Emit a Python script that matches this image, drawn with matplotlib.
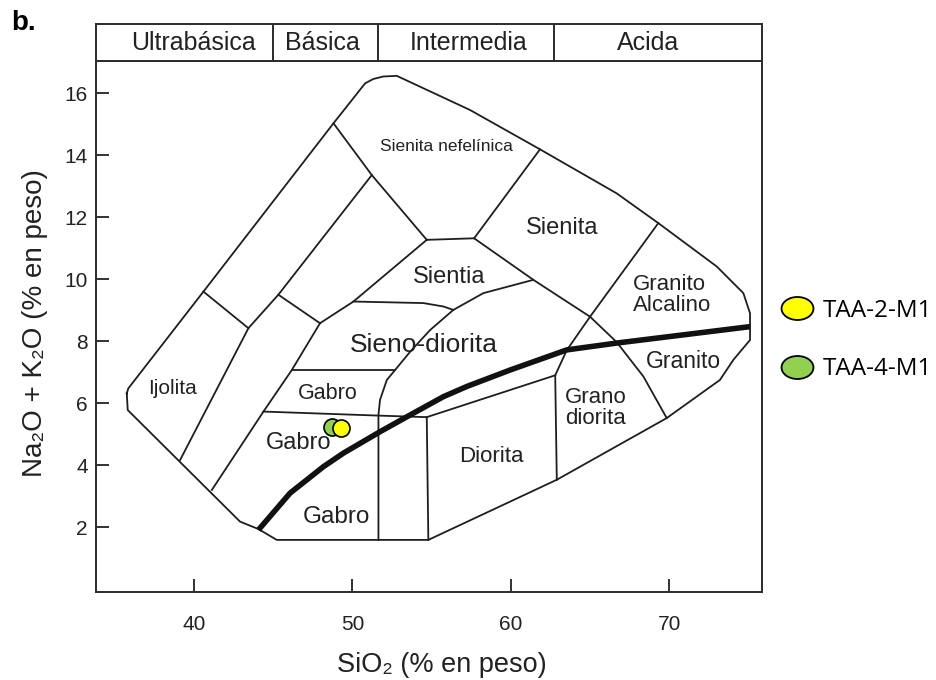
import matplotlib
matplotlib.use("Agg")
import matplotlib.pyplot as plt
from matplotlib.path import Path
from matplotlib.transforms import Affine2D
from matplotlib.lines import Line2D

plt.rcParams['font.family'] = ['Liberation Sans', 'DejaVu Sans']

# ---- datos del diagrama TAS (SiO2 vs Na2O+K2O) ----
outer_x = [35.75, 35.85, 40.59, 48.80, 50.80, 51.32, 51.95, 52.80, 57.42, 61.84, 66.68, 69.31,
           73.00, 74.68, 75.10, 75.10, 74.05, 73.20, 69.84, 62.90, 54.79, 51.64, 45.22, 44.06,
           42.90, 35.81, 35.75]
outer_y = [6.32, 6.48, 9.60, 15.03, 16.32, 16.46, 16.54, 16.56, 15.46, 14.19, 12.77, 11.81,
           10.41, 9.55, 8.90, 8.04, 7.40, 6.75, 5.52, 3.53, 1.59, 1.59, 1.59, 1.94,
           2.18, 5.78, 6.32]

line1_x = [51.22, 45.32, 43.43, 39.12]
line1_y = [13.36, 9.50, 8.42, 4.17]
line3_x = [54.69, 50.06, 47.95, 46.17, 44.38, 41.12]
line3_y = [11.27, 9.28, 8.58, 7.07, 5.73, 3.20]
cross1_x = [40.59, 43.43]
cross1_y = [9.60, 8.42]
cross2_x = [45.32, 47.95]
cross2_y = [9.50, 8.58]
nef_left_x = [48.80, 51.22, 54.69]
nef_left_y = [15.03, 13.36, 11.27]
nef_bottom_x = [54.69, 57.68]
nef_bottom_y = [11.27, 11.32]
nef_right_x = [57.68, 61.84]
nef_right_y = [11.32, 14.19]
sienita_x = [57.68, 61.42, 65.00, 66.68, 68.37, 69.84]
sienita_y = [11.32, 9.98, 8.79, 7.97, 6.86, 5.52]
alcalino_x = [69.31, 65.00, 63.53, 62.80, 62.90]
alcalino_y = [11.81, 8.79, 7.71, 6.90, 3.53]
sientia_x = [50.06, 54.48, 55.74, 56.37]
sientia_y = [9.28, 9.23, 9.12, 9.01]
sieno_x = [61.42, 58.26, 56.37, 54.90, 53.64, 52.69, 52.17, 51.74, 51.64, 51.64]
sieno_y = [9.98, 9.55, 9.01, 8.36, 7.66, 7.07, 6.75, 6.11, 5.62, 1.59]
gabro_top_x = [46.17, 52.69]
gabro_top_y = [7.07, 7.07]
gabro_bot_x = [44.38, 51.64, 54.69]
gabro_bot_y = [5.73, 5.60, 5.55]
diorita_top_x = [54.69, 62.80]
diorita_top_y = [5.55, 6.90]
diorita_left_x = [54.69, 54.79]
diorita_left_y = [5.55, 1.59]

# linea alcalina / subalcalina
thick_x = [44.06, 46.06, 48.16, 49.43, 51.74, 53.64, 55.74, 57.22, 59.95, 63.53, 66.68, 75.10]
thick_y = [1.91, 3.10, 3.95, 4.39, 5.08, 5.62, 6.21, 6.54, 7.07, 7.72, 7.94, 8.47]

# muestras
samples = ['TAA-2-M1', 'TAA-4-M1']
sample_sio2 = [49.26, 48.69]
sample_alk = [5.21, 5.22]
sample_colors = ['#FFFF00', '#92D050']

# nombres de campos (texto, x, y, tamaño)
field_names = ['Sienita nefelínica', 'Sienita', 'Sientia', 'Sieno-diorita', 'Granito\nAlcalino',
               'Granito', 'Grano\ndiorita', 'Diorita', 'Ijolita', 'Gabro', 'Gabro', 'Gabro']
field_x = [55.95, 63.26, 56.10, 54.52, 67.73, 70.89, 63.42, 58.74, 38.64, 48.46, 46.63, 48.96]
field_y = [14.28, 11.65, 10.07, 7.88, 9.48, 7.34, 5.86, 4.28, 6.48, 6.32, 4.73, 2.32]
field_size = [12.5, 17, 17, 19, 16, 16.5, 16, 16, 15, 15.5, 17, 17.5]
field_ha = ['center', 'center', 'center', 'center', 'left', 'center', 'left', 'center',
            'center', 'center', 'center', 'center']

# cabecera
header_bounds = [45.0, 51.6, 62.7]
header_names = ['Ultrabásica', 'Básica', 'Intermedia', 'Acida']
header_x = [39.94, 48.11, 57.32, 68.67]

fig = plt.figure(figsize=(9.37, 6.8), dpi=100)
ax = fig.add_axes([0.1025, 0.129, 0.7108, 0.7813])
hax = fig.add_axes([0.1025, 0.9103, 0.7108, 0.054])

lc = '#1e1e1e'
lw = 1.3
segments = [(outer_x, outer_y), (line1_x, line1_y), (line3_x, line3_y), (cross1_x, cross1_y),
            (cross2_x, cross2_y), (nef_left_x, nef_left_y), (nef_bottom_x, nef_bottom_y),
            (nef_right_x, nef_right_y), (sienita_x, sienita_y), (alcalino_x, alcalino_y),
            (sientia_x, sientia_y), (sieno_x, sieno_y), (gabro_top_x, gabro_top_y),
            (gabro_bot_x, gabro_bot_y), (diorita_top_x, diorita_top_y),
            (diorita_left_x, diorita_left_y)]
for sx, sy in segments:
    ax.plot(sx, sy, color=lc, lw=lw, solid_joinstyle='round')

ax.plot(thick_x, thick_y, color='#111111', lw=4, solid_capstyle='butt')

for name, x, y, s, ha in zip(field_names, field_x, field_y, field_size, field_ha):
    ax.text(x, y, name, fontsize=s, ha=ha, va='center', color='#222222', linespacing=1.0)

# puntos (verde primero, amarillo encima)
for i in [1, 0]:
    ax.scatter(sample_sio2[i], sample_alk[i], s=150, color=sample_colors[i],
               edgecolor='black', linewidth=1.2, zorder=5)

ax.set_xlim(33.81, 75.86)
ax.set_ylim(-0.1, 17.04)
ax.set_xticks([40, 50, 60, 70])
ax.set_yticks([2, 4, 6, 8, 10, 12, 14, 16])
ax.tick_params(direction='in', length=9.5, width=1.3, labelsize=15, colors='#222222')
ax.tick_params(axis='x', pad=16)
ax.tick_params(axis='y', pad=6)
for sp in ax.spines.values():
    sp.set_linewidth(1.4)
    sp.set_color('#2b2b2b')

ax.set_xlabel('SiO₂ (% en peso)', fontsize=19.5, color='#222222')
ax.xaxis.set_label_coords(0.5195, -0.1133)
ax.set_ylabel('Na₂O + K₂O (% en peso)', fontsize=20, color='#222222')
ax.yaxis.set_label_coords(-0.0725, 0.506)

# cabecera con las clases de roca
hax.set_xlim(33.81, 75.86)
hax.set_ylim(0, 1)
hax.set_xticks([])
hax.set_yticks([])
for sp in hax.spines.values():
    sp.set_linewidth(1.4)
    sp.set_color('#2b2b2b')
for b in header_bounds:
    hax.axvline(b, color='#2b2b2b', lw=1.4)
for name, x in zip(header_names, header_x):
    hax.text(x, 0.5, name, fontsize=18, ha='center', va='center', color='#222222')

fig.text(24 / 937, 1 - 23 / 680, 'b.', fontsize=20, fontweight='bold', ha='center', va='center')

# leyenda con elipses
ellipse = Path.unit_circle().transformed(Affine2D().scale(1.0, 0.72))
handles = [Line2D([], [], ls='none', marker=ellipse, markersize=23, markerfacecolor=c,
                  markeredgecolor='black', markeredgewidth=1.3) for c in sample_colors]
fig.legend(handles, samples, loc='center left', bbox_to_anchor=(777.5 / 937, 0.5),
           frameon=False, prop={'family': 'Open Sans', 'size': 17.5}, handlelength=1.6,
           handletextpad=0.27, labelspacing=1.4, borderpad=0, borderaxespad=0)

fig.savefig('out.png', dpi=100)
